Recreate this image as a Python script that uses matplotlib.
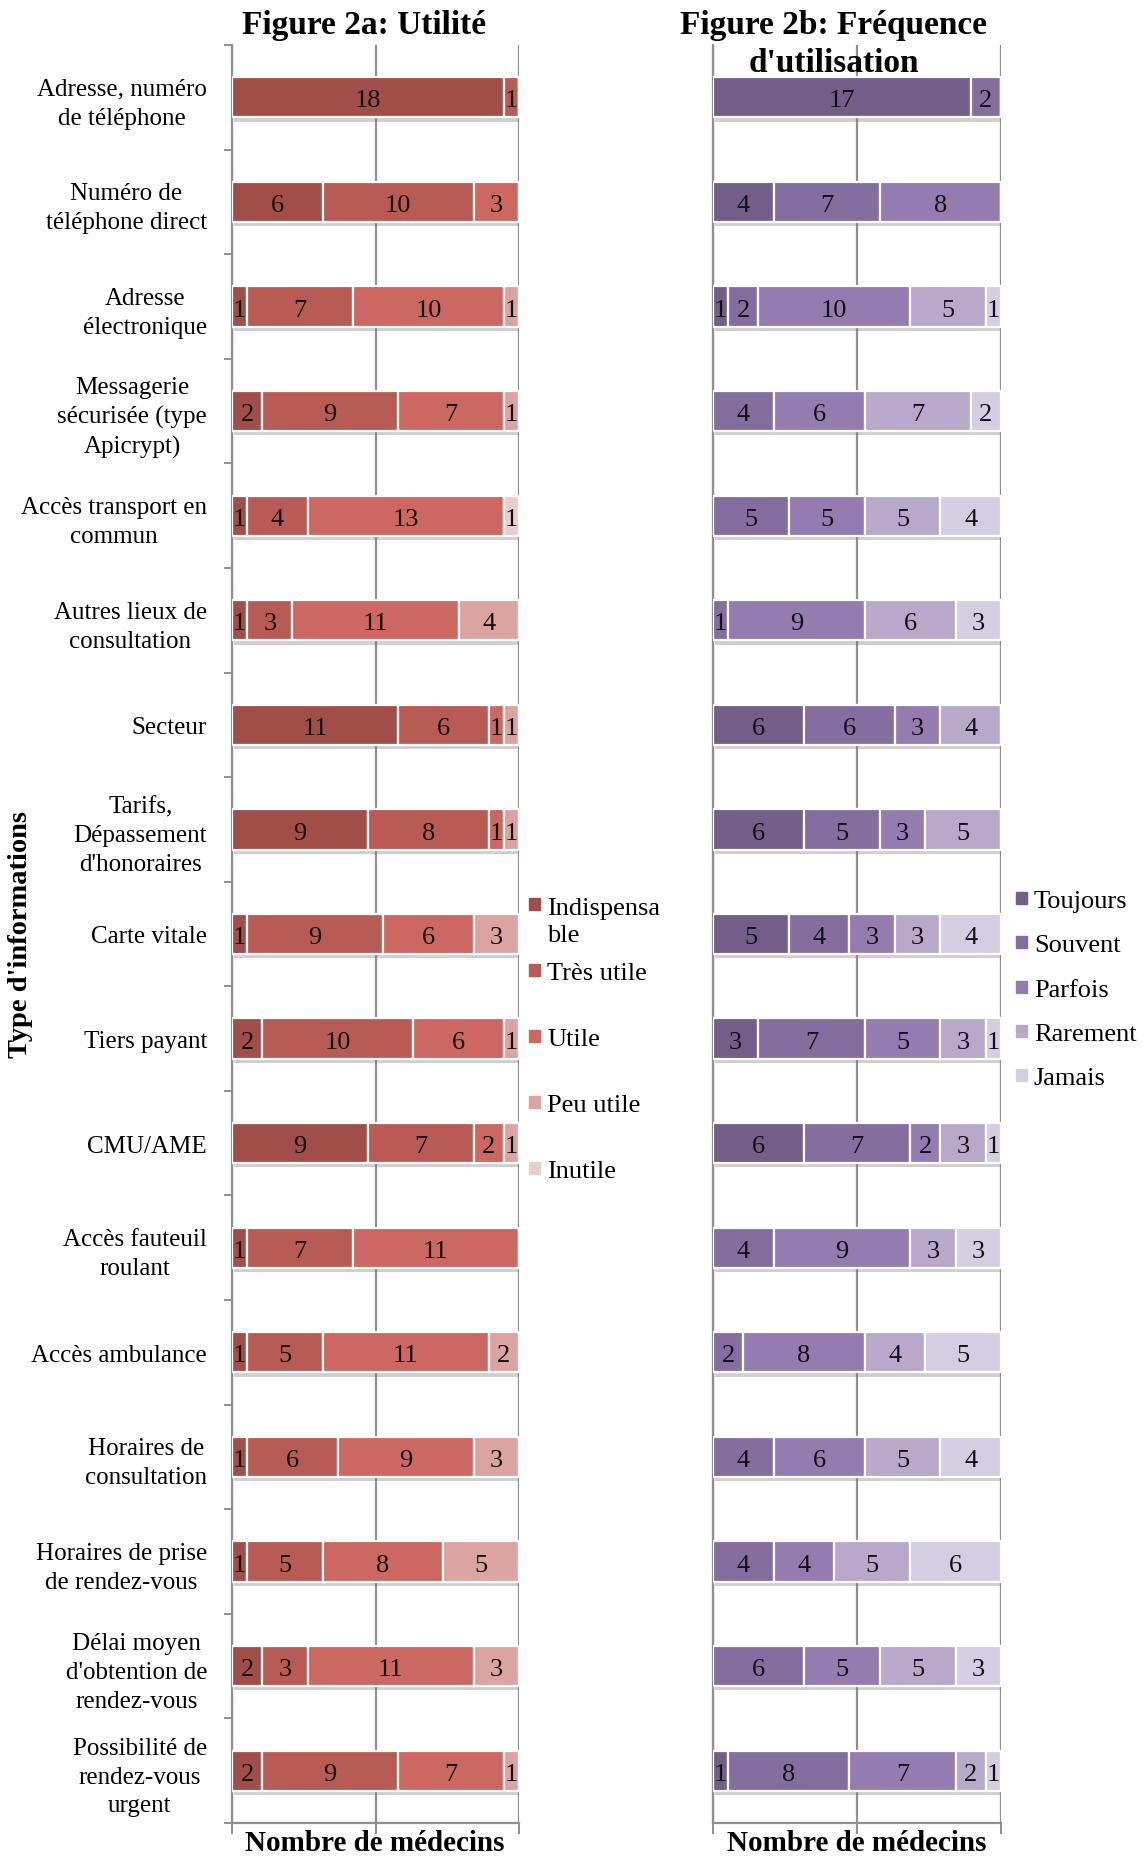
import numpy as np
import matplotlib
matplotlib.use('Agg')
import matplotlib.pyplot as plt
import matplotlib.patheffects as pe
from matplotlib.patches import Rectangle

plt.rcParams['font.family'] = ['Liberation Serif', 'DejaVu Serif']

categories = ["Adresse, numéro\nde téléphone", "Numéro de\ntéléphone direct",
              "Adresse\nélectronique", "Messagerie\nsécurisée (type\nApicrypt)",
              "Accès transport en\ncommun", "Autres lieux de\nconsultation", "Secteur",
              "Tarifs,\nDépassement\nd'honoraires", "Carte vitale", "Tiers payant",
              "CMU/AME", "Accès fauteuil\nroulant", "Accès ambulance",
              "Horaires de\nconsultation", "Horaires de prise\nde rendez-vous",
              "Délai moyen\nd'obtention de\nrendez-vous", "Possibilité de\nrendez-vous\nurgent"]

# Figure 2a : utilité
utilite_noms = ['Indispensa\nble', 'Très utile', 'Utile', 'Peu utile', 'Inutile']
indispensable = [18, 6, 1, 2, 1, 1, 11, 9, 1, 2, 9, 1, 1, 1, 1, 2, 2]
tres_utile = [1, 10, 7, 9, 4, 3, 6, 8, 9, 10, 7, 7, 5, 6, 5, 3, 9]
utile = [0, 3, 10, 7, 13, 11, 1, 1, 6, 6, 2, 11, 11, 9, 8, 11, 7]
peu_utile = [0, 0, 1, 1, 0, 4, 1, 1, 3, 1, 1, 0, 2, 3, 5, 3, 1]
inutile = [0, 0, 0, 0, 1, 0, 0, 0, 0, 0, 0, 0, 0, 0, 0, 0, 0]
couleurs_a = ['#A14E48', '#B95B55', '#CC6761', '#DBA4A1', '#EBCDCB']

# Figure 2b : fréquence
freq_noms = ['Toujours', 'Souvent', 'Parfois', 'Rarement', 'Jamais']
toujours = [17, 4, 1, 0, 0, 0, 6, 6, 5, 3, 6, 0, 0, 0, 0, 0, 1]
souvent = [2, 7, 2, 4, 5, 1, 6, 5, 4, 7, 7, 4, 2, 4, 4, 6, 8]
parfois = [0, 8, 10, 6, 5, 9, 3, 3, 3, 5, 2, 9, 8, 6, 4, 5, 7]
rarement = [0, 0, 5, 7, 5, 6, 4, 5, 3, 3, 3, 3, 4, 5, 5, 5, 2]
jamais = [0, 0, 1, 2, 4, 3, 0, 0, 4, 1, 1, 3, 5, 4, 6, 3, 1]
couleurs_b = ['#735E8A', '#846EA0', '#947BB0', '#B8A9CA', '#D5CDE1']

W, H = 1143, 1858
fig = plt.figure(figsize=(W / 100, H / 100), dpi=100)

def fx(px):
    return px / W

def fy(py):
    return 1 - py / H

grille = '#8f8f8f'
ax1 = fig.add_axes([fx(232), fy(1824), fx(519) - fx(232), fy(46) - fy(1824)])
ax2 = fig.add_axes([fx(713), fy(1824), fx(1001) - fx(713), fy(46) - fy(1824)])

def empile(ax, series, couleurs):
    data = np.array(series, dtype=float)
    total = data.sum(axis=0)
    y = np.arange(data.shape[1])
    gauche = np.zeros(data.shape[1])
    for s, c in zip(data, couleurs):
        w = s / total
        bars = ax.barh(y, w, left=gauche, height=0.385, color=c, edgecolor='white',
                       linewidth=1.6, zorder=3)
        for b in bars:
            b.set_path_effects([pe.SimplePatchShadow(offset=(1.5, -3), shadow_rgbFace='#777777',
                                                     alpha=0.35), pe.Normal()])
        for yi, (v, l, wi) in enumerate(zip(s, gauche, w)):
            if v > 0:
                ax.text(l + wi / 2, yi + 0.03, str(int(v)), ha='center', va='center',
                        fontsize=19, color='#111111', zorder=4)
        gauche = gauche + w
    ax.set_xlim(0, 1)
    ax.set_ylim(len(y) - 0.5, -0.5)
    ax.set_xticks([0, 0.5, 1])
    ax.set_xticklabels([])
    ax.xaxis.grid(True, color=grille, linewidth=1.6, zorder=0)
    ax.set_axisbelow(True)
    ax.tick_params(axis='x', direction='out', length=8, width=1.4, color=grille)
    for sp in ['top', 'right']:
        ax.spines[sp].set_visible(False)
    for sp in ['left', 'bottom']:
        ax.spines[sp].set_color(grille)
        ax.spines[sp].set_linewidth(1.6)
    return y

y = empile(ax1, [indispensable, tres_utile, utile, peu_utile, inutile], couleurs_a)
ax1.set_yticks(y)
ax1.set_yticklabels(categories, fontsize=18, multialignment='center', linespacing=1.4)
ax1.set_yticks(np.arange(len(y) + 1) - 0.5, minor=True)
ax1.tick_params(axis='y', which='major', length=0, pad=18)
ax1.tick_params(axis='y', which='minor', length=6, width=1.4, color=grille, direction='out')

empile(ax2, [toujours, souvent, parfois, rarement, jamais], couleurs_b)
ax2.set_yticks([])

# titres
fig.text(fx(364), fy(34), 'Figure 2a: Utilité', ha='center', va='baseline',
         fontsize=24, fontweight='bold')
fig.text(fx(834), fy(34), 'Figure 2b: Fréquence', ha='center', va='baseline',
         fontsize=24, fontweight='bold')
fig.text(fx(834), fy(72), "d'utilisation", ha='center', va='baseline',
         fontsize=24, fontweight='bold')
fig.text(fx(375), fy(1857), 'Nombre de médecins', ha='center', va='bottom',
         fontsize=21, fontweight='bold')
fig.text(fx(857), fy(1857), 'Nombre de médecins', ha='center', va='bottom',
         fontsize=21, fontweight='bold')
fig.text(fx(21), fy(935), "Type d'informations", ha='center', va='center',
         rotation=90, fontsize=20.5, fontweight='bold')

# légendes
def legende(noms, couleurs, x0, y0, pas):
    for i, (n, c) in enumerate(zip(noms, couleurs)):
        yc = y0 + i * pas
        fig.add_artist(Rectangle((fx(x0), fy(yc + 6)), fx(11), 12 / H, color=c,
                                 transform=fig.transFigure))
        decal = 28.5 * n.count('\n')
        fig.text(fx(x0 + 18), fy(yc + 9 + decal), n, ha='left', va='baseline',
                 fontsize=19, linespacing=1.35)

legende(utilite_noms, couleurs_a, 529, 905, 66)
legende(freq_noms, couleurs_b, 1016, 899, 44.3)

fig.savefig('out.png', dpi=100)
